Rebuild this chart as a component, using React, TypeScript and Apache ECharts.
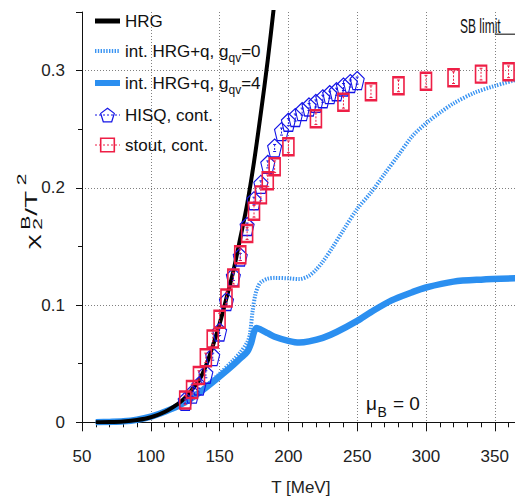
import React, { useEffect, useRef } from "react";
import * as echarts from "echarts";

const FONT = '"Liberation Sans", Arial, Helvetica, sans-serif';

const BLACK = "#000000";
const LIGHT_BLUE = "#3a94f2";
const BLUE_LINE = "#2b8ff0";
const HISQ_BLUE = "#1414e6";
const STOUT_RED = "#ee1f46";

const HRG_NAME = "HRG";
const G0_NAME = "int. HRG+q, g_qv=0";
const G4_NAME = "int. HRG+q, g_qv=4";
const HISQ_NAME = "HISQ, cont.";
const STOUT_NAME = "stout, cont.";

// HRG curve
const HRG_T = [60, 70, 80, 90, 100, 110, 120, 125, 130, 135, 140, 145, 150, 155, 160, 165, 170, 175, 180, 185, 190];
const HRG_V = [0.0, 0.0002, 0.0007, 0.0019, 0.0043, 0.0088, 0.016, 0.021, 0.028, 0.0355, 0.048, 0.065, 0.084, 0.106, 0.129, 0.157, 0.186, 0.222, 0.264, 0.309, 0.36];

// interacting HRG+q, g_qv = 0 (dotted)
const G0_T = [60, 70, 80, 90, 100, 110, 120, 130, 140, 150, 160, 165, 170, 172, 174, 176, 178, 180, 185, 190, 200, 208, 215, 220, 225, 232, 240, 250, 260, 270, 280, 290, 300, 310, 320, 335, 350, 365];
const G0_V = [0.0, 0.0003, 0.0008, 0.0022, 0.0048, 0.0092, 0.0145, 0.022, 0.031, 0.0415, 0.053, 0.0595, 0.068, 0.075, 0.095, 0.109, 0.116, 0.1195, 0.1225, 0.1232, 0.1228, 0.1222, 0.125, 0.13, 0.137, 0.149, 0.164, 0.182, 0.196, 0.212, 0.228, 0.244, 0.255, 0.264, 0.272, 0.281, 0.287, 0.292];

// interacting HRG+q, g_qv = 4 (solid)
const G4_T = [60, 70, 80, 90, 100, 110, 120, 130, 140, 150, 160, 165, 170, 173, 175, 177, 180, 185, 190, 200, 208, 215, 225, 235, 250, 260, 275, 290, 300, 320, 340, 365];
const G4_V = [0.0, 0.0003, 0.0008, 0.0022, 0.0048, 0.009, 0.014, 0.021, 0.0295, 0.039, 0.049, 0.0545, 0.06, 0.068, 0.077, 0.0805, 0.079, 0.076, 0.073, 0.0695, 0.068, 0.069, 0.072, 0.077, 0.0865, 0.094, 0.104, 0.111, 0.115, 0.12, 0.1217, 0.1228];

// HISQ continuum data
const HISQ_T = [125, 130, 135, 140, 145, 150, 155, 160, 165, 170, 175, 180, 185, 190, 195, 200, 205, 210, 215, 220, 225, 230, 235, 240, 245, 250];
const HISQ_V = [0.018, 0.024, 0.031, 0.041, 0.056, 0.077, 0.103, 0.124, 0.141, 0.167, 0.189, 0.203, 0.22, 0.234, 0.248, 0.256, 0.26, 0.265, 0.269, 0.272, 0.276, 0.2795, 0.282, 0.286, 0.289, 0.2915];
const HISQ_E = [0.002, 0.002, 0.002, 0.003, 0.003, 0.003, 0.003, 0.003, 0.003, 0.003, 0.003, 0.003, 0.003, 0.003, 0.003, 0.003, 0.003, 0.003, 0.003, 0.003, 0.003, 0.003, 0.003, 0.003, 0.003, 0.003];

// stout continuum data
const STOUT_T = [125, 130, 135, 140, 145, 150, 155, 160, 165, 170, 175, 180, 185, 190, 200, 220, 240, 260, 280, 300, 320, 340, 360];
const STOUT_V = [0.019, 0.028, 0.04, 0.055, 0.071, 0.088, 0.106, 0.123, 0.143, 0.161, 0.18, 0.194, 0.206, 0.218, 0.235, 0.259, 0.273, 0.282, 0.287, 0.291, 0.294, 0.297, 0.299];
const STOUT_E = [0.004, 0.004, 0.004, 0.004, 0.005, 0.005, 0.005, 0.005, 0.005, 0.005, 0.005, 0.005, 0.005, 0.005, 0.005, 0.005, 0.005, 0.005, 0.005, 0.005, 0.005, 0.005, 0.005];

// Stefan-Boltzmann limit marker
const SB_T = [350, 365];
const SB_LIMIT = 0.331;

const PENTAGON = "path://M5 0L10 3.6L8.1 9.5L1.9 9.5L0 3.6Z";

const pairs = (t: number[], v: number[]) => t.map((x, i) => [x, v[i]]);
const triples = (t: number[], v: number[], e: number[]) => t.map((x, i) => [x, v[i], e[i]]);

function errorBars(color: string) {
  return (params: any, api: any) => {
    const t = api.value(0);
    const v = api.value(1);
    const e = api.value(2);
    const top = api.coord([t, v + e]);
    const bot = api.coord([t, v - e]);
    const cap = 1.5;
    return {
      type: "group",
      children: [
        { type: "line", shape: { x1: top[0], y1: top[1], x2: bot[0], y2: bot[1] }, style: { stroke: color, lineWidth: 1, lineDash: [2, 1.5] } },
        { type: "line", shape: { x1: top[0] - cap, y1: top[1], x2: top[0] + cap, y2: top[1] }, style: { stroke: color, lineWidth: 1 } },
        { type: "line", shape: { x1: bot[0] - cap, y1: bot[1], x2: bot[0] + cap, y2: bot[1] }, style: { stroke: color, lineWidth: 1 } },
      ],
    };
  };
}

export default function App() {
  const ref = useRef<HTMLDivElement>(null);
  useEffect(() => {
    const chart = echarts.init(ref.current!, null, { renderer: "svg" });
    const axisText = { fontFamily: FONT, fontSize: 17, color: "#222" };
    const hideSymbol = { opacity: 0 };
    const option: any = {
      animation: false,
      backgroundColor: "#ffffff",
      grid: { left: 82, top: 12, width: 481.6, height: 410.3, containLabel: false, outerBoundsMode: "none" },
      xAxis: {
        type: "value",
        min: 50,
        max: 400,
        interval: 50,
        axisLine: { onZero: false, lineStyle: { color: "#111", width: 1 } },
        axisTick: { length: 9, lineStyle: { color: "#111" } },
        minorTick: { show: true, splitNumber: 5, length: 5, lineStyle: { color: "#111" } },
        splitLine: { show: true, showMinLine: false, showMaxLine: false, lineStyle: { color: "#808080", type: [1, 2], width: 1 } },
        axisLabel: { ...axisText, margin: 26, formatter: (v: number) => (v % 50 === 0 && v <= 350 ? String(v) : "") },
        name: "T [MeV]",
        nameLocation: "middle",
        nameGap: 57,
        nameTextStyle: { ...axisText, padding: [0, 44, 0, 0] },
      },
      yAxis: {
        type: "value",
        min: 0,
        max: 0.35,
        interval: 0.1,
        axisLine: { onZero: false, lineStyle: { color: "#111", width: 1 } },
        axisTick: { length: 6, lineStyle: { color: "#111" } },
        minorTick: { show: true, splitNumber: 2, length: 4, lineStyle: { color: "#111" } },
        splitLine: { show: true, showMinLine: false, showMaxLine: false, lineStyle: { color: "#808080", type: [1, 2], width: 1 } },
        axisLabel: {
          ...axisText,
          margin: 17,
          formatter: (v: number) => {
            const k = Math.round(v * 10);
            if (Math.abs(v * 10 - k) > 1e-6) return "";
            return k === 0 ? "0" : (k / 10).toFixed(1);
          },
        },
      },
      legend: {
        show: true,
        orient: "vertical",
        left: 87,
        top: 5,
        itemWidth: 25,
        itemHeight: 17,
        itemGap: 8,
        selectedMode: false,
        formatter: (name: string) => name.replace("g_qv", "g{sub|qv}"),
        textStyle: {
          fontFamily: FONT,
          fontSize: 17,
          color: "#111",
          lineHeight: 22,
          rich: { sub: { fontFamily: FONT, fontSize: 12, color: "#111", lineHeight: 22, padding: [7, 0, -7, 0] } },
        },
        data: [
          { name: HRG_NAME, itemStyle: hideSymbol, lineStyle: { width: 5, color: BLACK, type: "solid", opacity: 1 } },
          { name: G0_NAME, itemStyle: hideSymbol, lineStyle: { width: 4, color: LIGHT_BLUE, type: [1.4, 1.4], opacity: 1 } },
          { name: G4_NAME, itemStyle: hideSymbol, lineStyle: { width: 6, color: BLUE_LINE, type: "solid", opacity: 1 } },
          {
            name: HISQ_NAME,
            itemStyle: { color: "rgba(0,0,0,0)", borderColor: HISQ_BLUE, borderWidth: 1.2, borderType: "solid" },
            lineStyle: { opacity: 1, width: 1, type: [2, 2], color: HISQ_BLUE },
          },
          {
            name: STOUT_NAME,
            itemStyle: { color: "rgba(0,0,0,0)", borderColor: STOUT_RED, borderWidth: 1.6, borderType: "solid" },
            lineStyle: { opacity: 1, width: 1, type: [2, 2], color: STOUT_RED },
          },
        ],
      },
      series: [
        {
          name: G0_NAME,
          type: "line",
          data: pairs(G0_T, G0_V),
          showSymbol: false,
          symbol: "none",
          smooth: 0.3,
          lineStyle: { color: LIGHT_BLUE, width: 4, type: [1.4, 1.4] },
          itemStyle: { color: LIGHT_BLUE },
          z: 2,
        },
        {
          name: G4_NAME,
          type: "line",
          data: pairs(G4_T, G4_V),
          showSymbol: false,
          symbol: "none",
          smooth: 0.3,
          lineStyle: { color: BLUE_LINE, width: 6.5 },
          itemStyle: { color: BLUE_LINE },
          z: 3,
        },
        {
          name: HRG_NAME,
          type: "line",
          data: pairs(HRG_T, HRG_V),
          showSymbol: false,
          symbol: "none",
          smooth: 0.3,
          lineStyle: { color: BLACK, width: 4 },
          itemStyle: { color: BLACK },
          z: 4,
        },
        {
          name: "SB limit",
          type: "line",
          data: SB_T.map((t) => [t, SB_LIMIT]),
          showSymbol: false,
          symbol: "none",
          lineStyle: { color: "#555", width: 1.5 },
          z: 4,
        },
        {
          name: HISQ_NAME,
          type: "line",
          data: pairs(HISQ_T, HISQ_V),
          symbol: PENTAGON,
          symbolSize: [14, 18],
          showSymbol: true,
          lineStyle: { opacity: 0, width: 0 },
          itemStyle: { color: "rgba(0,0,0,0)", borderColor: HISQ_BLUE, borderWidth: 1.2 },
          z: 5,
        },
        {
          name: "HISQ err",
          type: "custom",
          data: triples(HISQ_T, HISQ_V, HISQ_E),
          renderItem: errorBars(HISQ_BLUE),
          encode: { x: 0, y: 1 },
          z: 5,
        },
        {
          name: STOUT_NAME,
          type: "line",
          data: pairs(STOUT_T, STOUT_V),
          symbol: "rect",
          symbolSize: [11, 17],
          showSymbol: true,
          lineStyle: { opacity: 0, width: 0 },
          itemStyle: { color: "rgba(0,0,0,0)", borderColor: STOUT_RED, borderWidth: 2 },
          z: 6,
        },
        {
          name: "stout err",
          type: "custom",
          data: triples(STOUT_T, STOUT_V, STOUT_E),
          renderItem: errorBars(STOUT_RED),
          encode: { x: 0, y: 1 },
          z: 6,
        },
      ],
      graphic: [
        {
          type: "group",
          x: 33,
          y: 249,
          rotation: Math.PI / 2,
          scaleX: 1.75,
          children: [
            { type: "text", x: 0, y: -1, style: { text: "χ", fontFamily: FONT, fontSize: 16, fill: "#111", align: "left", verticalAlign: "middle" } },
            { type: "text", x: 11, y: 5, style: { text: "2", fontFamily: FONT, fontSize: 12, fill: "#111", align: "left", verticalAlign: "middle" } },
            { type: "text", x: 11, y: -7, style: { text: "B", fontFamily: FONT, fontSize: 12, fill: "#111", align: "left", verticalAlign: "middle" } },
            { type: "text", x: 19, y: -2, style: { text: "/T", fontFamily: FONT, fontSize: 16, fill: "#111", align: "left", verticalAlign: "middle" } },
            { type: "text", x: 36.5, y: -11, style: { text: "2", fontFamily: FONT, fontSize: 12, fill: "#111", align: "left", verticalAlign: "middle" } },
          ],
        },
        { type: "text", x: 460, y: 26, scaleX: 0.6, style: { text: "SB limit", fontFamily: FONT, fontSize: 20, fill: "#111", align: "left", verticalAlign: "middle" } },
        { type: "text", x: 366, y: 403, style: { text: "μ", fontFamily: FONT, fontSize: 19, fill: "#111", align: "left", verticalAlign: "middle" } },
        { type: "text", x: 377.5, y: 412, style: { text: "B", fontFamily: FONT, fontSize: 14, fill: "#111", align: "left", verticalAlign: "middle" } },
        { type: "text", x: 393, y: 403, style: { text: "= 0", fontFamily: FONT, fontSize: 19, fill: "#111", align: "left", verticalAlign: "middle" } },
      ],
    };
    chart.setOption(option);
    return () => chart.dispose();
  }, []);
  return (
    <div
      ref={ref}
      style={{ position: "fixed", left: 0, top: 0, width: 515, height: 500, background: "#fff", overflow: "hidden" }}
    />
  );
}
